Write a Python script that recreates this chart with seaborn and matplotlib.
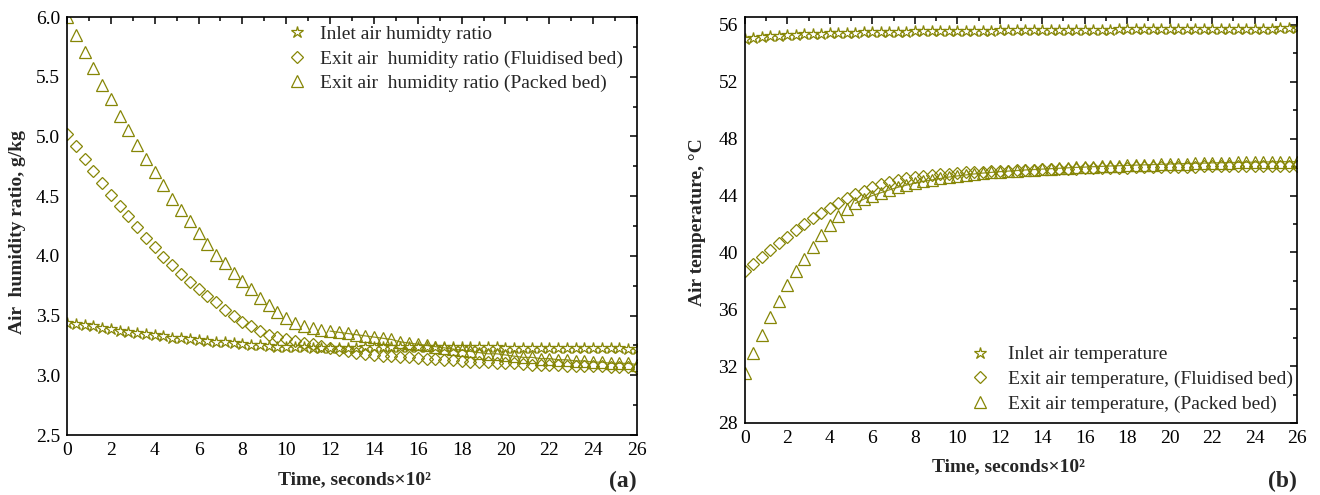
import numpy as np
import pandas as pd
import matplotlib
matplotlib.use("Agg")
import matplotlib.pyplot as plt
import seaborn as sns

# ---------------- data ----------------
time = np.round(np.arange(66) * 0.4, 1)  # seconds x 10^2

# (a) air humidity ratio, g/kg
inlet_hum = [3.44, 3.43, 3.42, 3.41, 3.395, 3.385, 3.375, 3.365, 3.355, 3.345,
             3.335, 3.325, 3.315, 3.31, 3.30, 3.295, 3.29, 3.28, 3.275, 3.27,
             3.26, 3.255, 3.25, 3.245, 3.24, 3.24, 3.235, 3.235, 3.23, 3.23,
             3.23, 3.23, 3.23, 3.23, 3.235, 3.235, 3.235, 3.24, 3.24, 3.24,
             3.24, 3.24, 3.24, 3.24, 3.24, 3.235, 3.235, 3.235, 3.235, 3.235,
             3.23, 3.23, 3.23, 3.23, 3.23, 3.23, 3.23, 3.23, 3.225, 3.225,
             3.225, 3.225, 3.225, 3.225, 3.22, 3.22]
fluid_hum = [5.02, 4.92, 4.81, 4.71, 4.61, 4.51, 4.42, 4.33, 4.24, 4.15,
             4.07, 3.99, 3.92, 3.85, 3.78, 3.72, 3.66, 3.61, 3.55, 3.50,
             3.45, 3.41, 3.37, 3.34, 3.32, 3.30, 3.285, 3.27, 3.26, 3.245,
             3.23, 3.215, 3.20, 3.19, 3.18, 3.17, 3.165, 3.16, 3.155, 3.15,
             3.145, 3.14, 3.135, 3.13, 3.125, 3.12, 3.115, 3.11, 3.11, 3.105,
             3.10, 3.10, 3.095, 3.09, 3.09, 3.085, 3.085, 3.08, 3.08, 3.08,
             3.075, 3.075, 3.07, 3.07, 3.07, 3.065]
packed_hum = [6.00, 5.85, 5.71, 5.57, 5.43, 5.31, 5.17, 5.05, 4.93, 4.81,
              4.70, 4.59, 4.48, 4.38, 4.29, 4.19, 4.10, 4.01, 3.94, 3.86,
              3.79, 3.72, 3.65, 3.59, 3.53, 3.48, 3.44, 3.41, 3.40, 3.38,
              3.37, 3.36, 3.35, 3.34, 3.33, 3.32, 3.31, 3.30, 3.28, 3.27,
              3.26, 3.25, 3.24, 3.23, 3.22, 3.21, 3.20, 3.19, 3.18, 3.18,
              3.17, 3.16, 3.15, 3.15, 3.14, 3.14, 3.13, 3.13, 3.12, 3.12,
              3.11, 3.11, 3.10, 3.10, 3.10, 3.09]

# (b) air temperature, degC
inlet_temp = [55.0, 55.08, 55.14, 55.2, 55.24, 55.28, 55.31, 55.34, 55.37, 55.39,
              55.41, 55.43, 55.45, 55.46, 55.48, 55.49, 55.5, 55.51, 55.52, 55.53,
              55.54, 55.55, 55.56, 55.57, 55.58, 55.58, 55.59, 55.6, 55.6, 55.61,
              55.62, 55.62, 55.63, 55.63, 55.64, 55.64, 55.65, 55.65, 55.66, 55.66,
              55.67, 55.67, 55.68, 55.68, 55.69, 55.69, 55.7, 55.7, 55.7, 55.71,
              55.71, 55.72, 55.72, 55.72, 55.73, 55.73, 55.73, 55.74, 55.74, 55.74,
              55.75, 55.75, 55.75, 55.76, 55.76, 55.76]
fluid_temp = [38.7, 39.2, 39.7, 40.15, 40.65, 41.1, 41.55, 42.0, 42.4, 42.8,
              43.15, 43.5, 43.8, 44.1, 44.35, 44.6, 44.8, 44.95, 45.08, 45.2,
              45.3, 45.38, 45.45, 45.5, 45.55, 45.6, 45.63, 45.66, 45.69, 45.72,
              45.74, 45.76, 45.78, 45.8, 45.82, 45.84, 45.85, 45.87, 45.88, 45.9,
              45.91, 45.92, 45.94, 45.95, 45.96, 45.97, 45.98, 45.99, 46.0, 46.01,
              46.02, 46.03, 46.04, 46.04, 46.05, 46.06, 46.06, 46.07, 46.07, 46.08,
              46.08, 46.09, 46.09, 46.1, 46.1, 46.1]
packed_temp = [31.5, 32.9, 34.2, 35.45, 36.6, 37.7, 38.7, 39.55, 40.4, 41.2,
               41.9, 42.55, 43.05, 43.45, 43.75, 44.0, 44.2, 44.4, 44.58, 44.73,
               44.87, 45.0, 45.1, 45.2, 45.3, 45.38, 45.45, 45.52, 45.58, 45.63,
               45.68, 45.72, 45.76, 45.8, 45.83, 45.86, 45.89, 45.92, 45.95, 45.98,
               46.0, 46.03, 46.05, 46.08, 46.1, 46.12, 46.14, 46.16, 46.18, 46.2,
               46.22, 46.24, 46.25, 46.27, 46.28, 46.3, 46.31, 46.32, 46.33, 46.34,
               46.35, 46.36, 46.37, 46.38, 46.38, 46.39]

labels_a = ["Inlet air humidty ratio",
            "Exit air  humidity ratio (Fluidised bed)",
            "Exit air  humidity ratio (Packed bed)"]
labels_b = ["Inlet air temperature",
            "Exit air temperature, (Fluidised bed)",
            "Exit air temperature, (Packed bed)"]

xticks = list(range(0, 27, 2))
yticks_a = [2.5, 3.0, 3.5, 4.0, 4.5, 5.0, 5.5, 6.0]
yticks_b = [28, 32, 36, 40, 44, 48, 52, 56]

# ---------------- style ----------------
sns.set_theme(style="white")
plt.rcParams["font.family"] = ["Liberation Serif", "DejaVu Serif"]
plt.rcParams["axes.linewidth"] = 1.2
COL = "#868606"

fig = plt.figure(figsize=(13.2, 4.95), dpi=100)
ax1 = fig.add_axes([67 / 1320, 1 - 435 / 495, 570 / 1320, 418 / 495])
ax2 = fig.add_axes([745 / 1320, 1 - 423 / 495, 552 / 1320, 406 / 495])

marker_specs = [("*", 9.0), ("D", 6.3), ("^", 9.0)]


def draw(ax, series, labels, tail_start):
    for (m, ms), y, lab in zip(marker_specs, series, labels):
        df = pd.DataFrame({"t": time, "v": y})
        sns.lineplot(data=df, x="t", y="v", ax=ax, estimator=None, label=lab,
                     linestyle="none", marker=m, markersize=ms,
                     markerfacecolor="none", markeredgecolor=COL,
                     markeredgewidth=0.9, color=COL)
    # thin connecting line visible on the tail of the packed-bed series
    dft = pd.DataFrame({"t": time, "v": series[2]})
    dft = dft[dft["t"] >= tail_start]
    sns.lineplot(data=dft, x="t", y="v", ax=ax, estimator=None, color=COL,
                 lw=0.9, alpha=0.9, legend=False)


draw(ax1, [inlet_hum, fluid_hum, packed_hum], labels_a, 12.0)
draw(ax2, [inlet_temp, fluid_temp, packed_temp], labels_b, 5.2)

ax1.set_xlim(0, 26)
ax1.set_ylim(2.5, 6.0)
ax2.set_xlim(0, 26)
ax2.set_ylim(28, 56.56)

for ax, yt, yminor in [(ax1, yticks_a, 0.25), (ax2, yticks_b, 2)]:
    ax.set_xticks(xticks)
    ax.set_xticklabels([str(v) for v in xticks])
    ax.set_yticks(yt)
    ax.xaxis.set_minor_locator(matplotlib.ticker.MultipleLocator(1))
    ax.yaxis.set_minor_locator(matplotlib.ticker.MultipleLocator(yminor))
    ax.tick_params(which="both", direction="in", top=True, right=True,
                   width=1.1, colors="black", labelsize=14, pad=5)
    ax.tick_params(which="major", length=5)
    ax.tick_params(which="minor", length=3)
    ax.set_xlabel("")
    ax.set_ylabel("")
    for s in ax.spines.values():
        s.set_color("black")
        s.set_linewidth(1.2)

ax1.set_yticklabels(["2.5", "3.0", "3.5", "4.0", "4.5", "5.0", "5.5", "6.0"])

ax1.legend(loc="upper left", bbox_to_anchor=(0.386, 0.98), frameon=False,
           fontsize=14, handlelength=1.0, handletextpad=0.7, labelspacing=0.36,
           borderaxespad=0, borderpad=0)
ax2.legend(loc="upper left", bbox_to_anchor=(0.409, 0.19), frameon=False,
           fontsize=14, handlelength=1.0, handletextpad=0.9, labelspacing=0.36,
           borderaxespad=0, borderpad=0)

fig.text(355 / 1320, 1 - 480 / 495, "Time, seconds×10²", ha="center", va="center",
         fontsize=14, fontweight="bold")
fig.text(1008 / 1320, 1 - 467 / 495, "Time, seconds×10²", ha="center", va="center",
         fontsize=14, fontweight="bold")
fig.text(18 / 1320, 1 - 232 / 495, "Air  humidity ratio, g/kg", ha="center",
         va="center", rotation=90, fontsize=14, fontweight="bold")
fig.text(697 / 1320, 1 - 222 / 495, "Air temperature, °C", ha="center",
         va="center", rotation=90, fontsize=14, fontweight="bold")
fig.text(637 / 1320, 1 - 481 / 495, "(a)", ha="right", va="center",
         fontsize=17, fontweight="bold")
fig.text(1297 / 1320, 1 - 481 / 495, "(b)", ha="right", va="center",
         fontsize=17, fontweight="bold")

fig.savefig("out.png", dpi=100)
